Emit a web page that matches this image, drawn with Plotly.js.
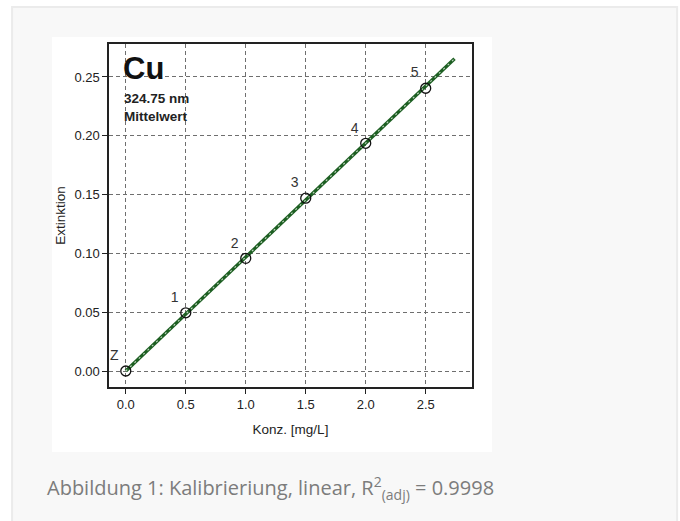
<!DOCTYPE html>
<html>
<head>
<meta charset="utf-8">
<script src="https://cdn.plot.ly/plotly-3.0.1.min.js"></script>
<style>
html,body{margin:0;padding:0;background:#ffffff;}
#chart{width:680px;height:521px;}
</style>
</head>
<body>
<div id="chart"></div>
<script>
// Calibration standards
const pointLabels = ["Z", "1", "2", "3", "4", "5"];
const concentration = [0.0, 0.5, 1.0, 1.5, 2.0, 2.5];
const extinction = [0.000, 0.0495, 0.0958, 0.1469, 0.1936, 0.2404];
// Fitted calibration line (end points)
const fitX = [0.0, 2.74];
const fitY = [0.0, 0.2655];
const xTicks = [0.0, 0.5, 1.0, 1.5, 2.0, 2.5];
const yTicks = [0.00, 0.05, 0.10, 0.15, 0.20, 0.25];

const axisFont = {family: "Liberation Sans, Arial, sans-serif", size: 13, color: "#222"};
const titleFont = {family: "Liberation Sans, Arial, sans-serif", size: 13.5, color: "#222"};

const traces = [
  {x: fitX, y: fitY, mode: "lines", line: {color: "#1d5f22", width: 3.4}, hoverinfo: "skip"},
  {x: fitX, y: fitY, mode: "lines", line: {color: "#c4d8c4", width: 1.1, dash: "2px,4px"}, hoverinfo: "skip"},
  {x: concentration, y: extinction, mode: "markers+text", text: pointLabels,
   textposition: "top left", textfont: {family: "Liberation Sans, Arial, sans-serif", size: 14, color: "#333"},
   marker: {symbol: "circle-open", size: 10, color: "#111", line: {width: 1.3, color: "#111"}},
   hoverinfo: "skip", cliponaxis: false}
];

const layout = {
  width: 680, height: 521,
  margin: {l: 109, r: 208, t: 44, b: 134, pad: 0},
  paper_bgcolor: "#ffffff",
  plot_bgcolor: "#ffffff",
  showlegend: false,
  xaxis: {
    range: [-0.14, 2.886], tickvals: xTicks, tickformat: ".1f",
    showgrid: true, gridcolor: "#6f6f6f", griddash: "4px,3px", gridwidth: 1,
    zeroline: false, showline: true, linecolor: "#222", linewidth: 1.6, mirror: true,
    ticks: "outside", ticklen: 5, tickcolor: "#222", tickfont: axisFont,
    title: {text: "Konz. [mg/L]", font: titleFont, standoff: 13}
  },
  yaxis: {
    range: [-0.0136, 0.278], tickvals: yTicks, tickformat: ".2f",
    showgrid: true, gridcolor: "#6f6f6f", griddash: "4px,3px", gridwidth: 1,
    zeroline: false, showline: true, linecolor: "#222", linewidth: 1.6, mirror: true,
    ticks: "outside", ticklen: 5, tickcolor: "#222", tickfont: axisFont,
    title: {text: "Extinktion", font: titleFont, standoff: 6}
  },
  shapes: [
    {type: "rect", xref: "paper", yref: "paper", x0: -0.267, x1: 1.565, y0: -0.45, y1: 1.1079,
     fillcolor: "#f8f8f8", line: {color: "#ebebeb", width: 2}, layer: "below"},
    {type: "rect", xref: "paper", yref: "paper", x0: -0.157, x1: 1.055, y0: -0.1895, y1: 1.0204,
     fillcolor: "#ffffff", line: {width: 0}, layer: "below"}
  ],
  annotations: [
    {xref: "paper", yref: "paper", x: 0.033, y: 0.928, xanchor: "left", yanchor: "middle",
     text: "<b>Cu</b>", showarrow: false, font: {family: "Liberation Sans, Arial, sans-serif", size: 31, color: "#111"}},
    {xref: "paper", yref: "paper", x: 0.036, y: 0.8397, xanchor: "left", yanchor: "middle",
     text: "<b>324.75 nm</b>", showarrow: false, font: {family: "Liberation Sans, Arial, sans-serif", size: 13.5, color: "#222"}},
    {xref: "paper", yref: "paper", x: 0.036, y: 0.790, xanchor: "left", yanchor: "middle",
     text: "<b>Mittelwert</b>", showarrow: false, font: {family: "Liberation Sans, Arial, sans-serif", size: 13.5, color: "#222"}},
    {xref: "paper", yref: "paper", x: -0.176, y: -0.2945, xanchor: "left", yanchor: "middle",
     text: "Abbildung 1: Kalibrieriung, linear, R<sup>2</sup><sub>(adj)</sub> = 0.9998", showarrow: false,
     font: {family: "Open Sans, sans-serif", size: 20, color: "#7c7c7c"}}
  ]
};

Plotly.newPlot("chart", traces, layout, {displayModeBar: false, staticPlot: true});
</script>
</body>
</html>
